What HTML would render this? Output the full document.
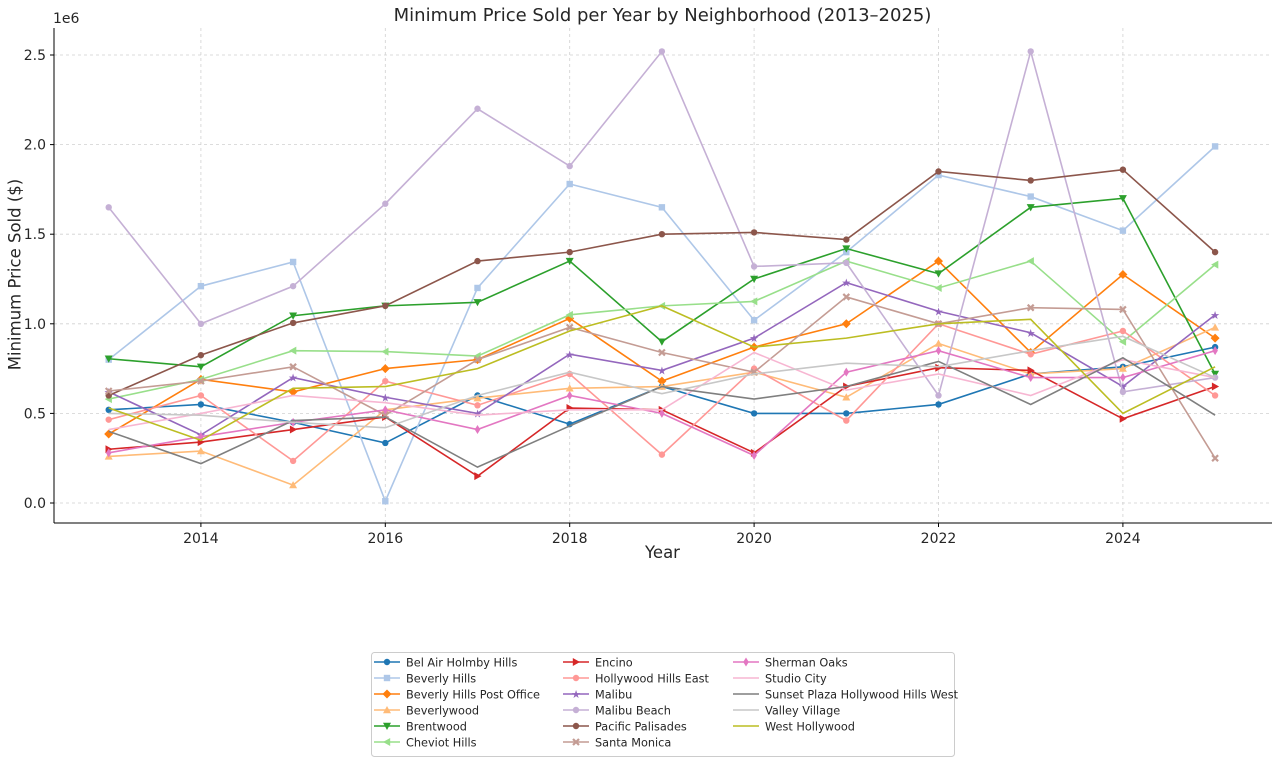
<!DOCTYPE html>
<html><head><meta charset="utf-8"><style>
body{margin:0;background:#fff;font-family:"Liberation Sans","DejaVu Sans",sans-serif}
svg text{font-family:"DejaVu Sans","Liberation Sans",sans-serif;fill:#262626}
</style></head><body>
<svg id="c" width="1280" height="765"></svg>
<script>
const years=[2013,2014,2015,2016,2017,2018,2019,2020,2021,2022,2023,2024,2025];
const xTicks=[2014,2016,2018,2020,2022,2024];
const yTicks=[0,0.5,1.0,1.5,2.0,2.5];
const names=["Bel Air Holmby Hills","Beverly Hills","Beverly Hills Post Office","Beverlywood","Brentwood","Cheviot Hills","Encino","Hollywood Hills East","Malibu","Malibu Beach","Pacific Palisades","Santa Monica","Sherman Oaks","Studio City","Sunset Plaza Hollywood Hills West","Valley Village","West Hollywood"];
const sBelAir=[0.52,0.55,0.45,0.335,0.6,0.44,0.65,0.5,0.5,0.55,0.72,0.76,0.87];
const sBeverly=[0.8,1.21,1.345,0.01,1.2,1.78,1.65,1.02,1.4,1.83,1.71,1.52,1.99];
const sBHPO=[0.385,0.69,0.62,0.75,0.8,1.03,0.68,0.87,1.0,1.35,0.84,1.275,0.92];
const sBeverlywood=[0.26,0.29,0.1,0.52,0.585,0.64,0.65,0.73,0.59,0.89,0.72,0.75,0.98];
const sBrentwood=[0.805,0.76,1.045,1.1,1.12,1.35,0.9,1.25,1.42,1.28,1.65,1.7,0.72];
const sCheviot=[0.58,0.69,0.85,0.845,0.82,1.05,1.1,1.125,1.35,1.2,1.35,0.9,1.33];
const sEncino=[0.3,0.34,0.41,0.48,0.15,0.53,0.52,0.28,0.65,0.755,0.74,0.47,0.65];
const sHHE=[0.465,0.6,0.235,0.68,0.545,0.72,0.27,0.75,0.46,1.0,0.83,0.96,0.6];
const sMalibu=[0.62,0.38,0.7,0.59,0.5,0.83,0.74,0.92,1.23,1.07,0.95,0.65,1.05];
const sMalibuBeach=[1.65,1.0,1.21,1.67,2.2,1.88,2.52,1.32,1.34,0.6,2.52,0.62,0.7];
const sPalisades=[0.6,0.825,1.005,1.1,1.35,1.4,1.5,1.51,1.47,1.85,1.8,1.86,1.4];
const sSantaMonica=[0.625,0.68,0.76,0.49,0.8,0.98,0.84,0.73,1.15,1.0,1.09,1.08,0.25];
const sSherman=[0.28,0.37,0.45,0.52,0.41,0.6,0.5,0.265,0.73,0.85,0.7,0.7,0.85];
const sStudio=[0.41,0.5,0.6,0.56,0.49,0.52,0.52,0.84,0.63,0.72,0.6,0.8,0.7];
const sSunset=[0.4,0.22,0.46,0.48,0.2,0.43,0.65,0.58,0.65,0.79,0.55,0.81,0.49];
const sValley=[0.5,0.49,0.45,0.42,0.6,0.73,0.61,0.72,0.78,0.76,0.85,0.93,0.7];
const sWeHo=[0.53,0.35,0.64,0.65,0.75,0.96,1.1,0.87,0.92,1.0,1.025,0.5,0.76];
const series=[sBelAir,sBeverly,sBHPO,sBeverlywood,sBrentwood,sCheviot,sEncino,sHHE,sMalibu,sMalibuBeach,sPalisades,sSantaMonica,sSherman,sStudio,sSunset,sValley,sWeHo];
const colors=["#1f77b4","#aec7e8","#ff7f0e","#ffbb78","#2ca02c","#98df8a","#d62728","#ff9896","#9467bd","#c5b0d5","#8c564b","#c49c94","#e377c2","#f7b6d2","#7f7f7f","#c7c7c7","#bcbd22"];
const markers=["o","s","D","^","v","<",">","o","*","h","o","x","d","","","",""];

const NS="http://www.w3.org/2000/svg";
const svg=document.getElementById('c');
function el(t,a,p){const e=document.createElementNS(NS,t);for(const k in a)e.setAttribute(k,a[k]);(p||svg).appendChild(e);return e;}
const X=y=>108.7+(y-2013)*92.2;
const Y=v=>503-v*179.2;
const L=54,R=1272,T=28,B=523;

const grid=el('g',{});


xTicks.forEach(t=>{el('line',{x1:X(t),x2:X(t),y1:T,y2:B,stroke:'#d0d0d0','stroke-dasharray':'3,3','stroke-width':0.8},grid);});
yTicks.forEach(t=>{el('line',{x1:L,x2:R,y1:Y(t),y2:Y(t),stroke:'#d0d0d0','stroke-dasharray':'3,3','stroke-width':0.8},grid);});

function marker(g,type,x,y,c){
  const s=4;
  if(type==='o'||type==='h')return el('circle',{cx:x,cy:y,r:3.2,fill:c},g);
  if(type==='s')return el('rect',{x:x-3.2,y:y-3.2,width:6.4,height:6.4,fill:c},g);
  if(type==='D')return el('polygon',{points:`${x},${y-4.5} ${x+4.5},${y} ${x},${y+4.5} ${x-4.5},${y}`,fill:c},g);
  if(type==='d')return el('polygon',{points:`${x},${y-4.5} ${x+2.8},${y} ${x},${y+4.5} ${x-2.8},${y}`,fill:c},g);
  if(type==='^')return el('polygon',{points:`${x},${y-s} ${x+s},${y+s*0.8} ${x-s},${y+s*0.8}`,fill:c},g);
  if(type==='v')return el('polygon',{points:`${x},${y+s} ${x+s},${y-s*0.8} ${x-s},${y-s*0.8}`,fill:c},g);
  if(type==='<')return el('polygon',{points:`${x-s},${y} ${x+s*0.8},${y-s} ${x+s*0.8},${y+s}`,fill:c},g);
  if(type==='>')return el('polygon',{points:`${x+s},${y} ${x-s*0.8},${y-s} ${x-s*0.8},${y+s}`,fill:c},g);
  if(type==='*')return el('text',{x:x,y:y+4,'text-anchor':'middle','font-size':11,style:'fill:'+c},g).textContent='★';
  if(type==='x')return el('path',{d:`M${x-3},${y-3}L${x+3},${y+3}M${x-3},${y+3}L${x+3},${y-3}`,stroke:c,'stroke-width':2.2},g);
}

series.forEach((s,i)=>{
  const g=el('g',{});
  
  
  el('polyline',{points:s.map((v,j)=>X(years[j])+','+Y(v)).join(' '),fill:'none',stroke:colors[i],'stroke-width':1.6},g);
  if(markers[i])s.forEach((v,j)=>marker(g,markers[i],X(years[j]),Y(v),colors[i]));
});

const ax=el('g',{});


el('line',{x1:L,x2:L,y1:T,y2:B,stroke:'#000','stroke-width':1},ax);
el('line',{x1:L,x2:R,y1:B,y2:B,stroke:'#000','stroke-width':1},ax);
xTicks.forEach(t=>{el('line',{x1:X(t),x2:X(t),y1:B,y2:B+4,stroke:'#000'},ax);
  const tx=el('text',{x:X(t),y:B+20,'text-anchor':'middle','font-size':14},ax);tx.textContent=t;
  });
yTicks.forEach(t=>{el('line',{x1:L-4,x2:L,y1:Y(t),y2:Y(t),stroke:'#000'},ax);
  const tx=el('text',{x:L-8,y:Y(t)+5,'text-anchor':'end','font-size':14},ax);tx.textContent=t.toFixed(1);
  });

// legend
const lg=el('g',{});


el('rect',{x:371.5,y:652.5,width:583,height:104,rx:3,fill:'#fff',stroke:'#cccccc'},lg);
const colX=[374,563,733];
names.forEach((n,i)=>{
  const c=Math.floor(i/6),r=i%6;const x=colX[c],y=662+r*16;
  const e=el('g',{},lg);
  
  
  el('line',{x1:x,x2:x+26,y1:y,y2:y,stroke:colors[i],'stroke-width':1.6},e);
  if(markers[i])marker(e,markers[i],x+13,y,colors[i]);
  const t=el('text',{x:x+32,y:y+4.5,'font-size':11.3},e);t.textContent=n;
});
</script>
<div style="position:absolute;left:0;top:0;width:1280px;height:765px;pointer-events:none">
<div style="position:absolute;left:0;width:1325px;top:5px;text-align:center;font:18px 'DejaVu Sans',sans-serif;color:#262626;white-space:nowrap">Minimum Price Sold per Year by Neighborhood (2013–2025)</div>
<div style="position:absolute;left:53px;top:11px;font:14px 'DejaVu Sans',sans-serif;color:#262626">1e6</div>
<div style="position:absolute;left:0;width:1325px;top:543px;text-align:center;font:16.5px 'DejaVu Sans',sans-serif;color:#262626">Year</div>
<div style="position:absolute;left:-110px;top:265px;width:250px;text-align:center;transform:rotate(-90deg);font:16.5px 'DejaVu Sans',sans-serif;color:#262626;white-space:nowrap">Minimum Price Sold ($)</div>
</div>
</body></html>
